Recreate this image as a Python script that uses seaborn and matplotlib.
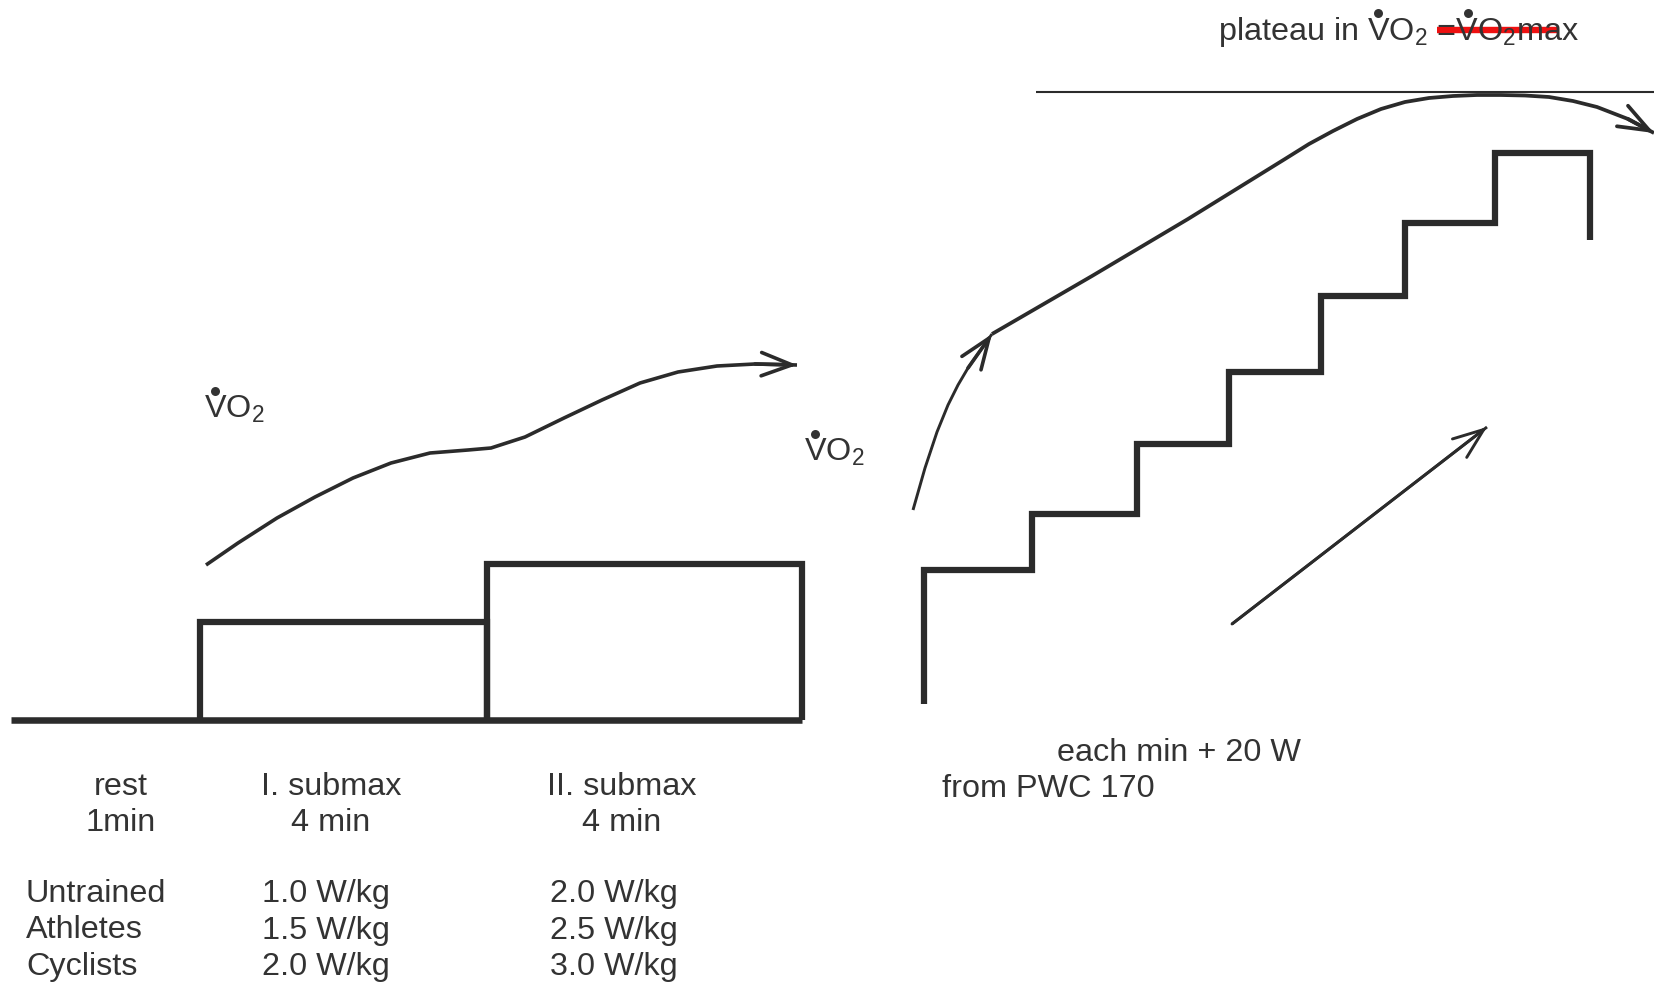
import matplotlib
matplotlib.use("Agg")
import matplotlib.pyplot as plt
import seaborn as sns

# Diagram drawn in picture pixel units (x to the right, y downward)

# Left protocol: rest + two submaximal stages
stage_edges = [11, 200, 487, 802]
baseline = 720
stage_tops = [622, 564]

# Left VO2 response curve
left_curve_x = [206, 238, 277, 315, 353, 391, 430, 468, 491, 525, 564, 602, 640, 678, 717, 755, 797]
left_curve_y = [565, 543, 518, 497, 478, 463, 453, 450, 448, 437, 418, 400, 383, 372, 366, 364, 365]

# Right protocol: ramp of steps (+20 W each min)
step_edges = [924, 1032, 1137, 1229, 1321, 1405, 1495, 1590]
step_levels = [570, 514, 444, 372, 296, 223, 153]
step_bottom = 704
step_end = 240

# Right VO2 curve: first rising arrow, then plateau curve
rise_x = [913, 925, 937, 948, 958, 968, 992]
rise_y = [510, 468, 432, 405, 385, 368, 334]
plateau_x = [992, 1092, 1188, 1285, 1309, 1333, 1357, 1381, 1405, 1429, 1453, 1477, 1501, 1525, 1549, 1573, 1597, 1628, 1654]
plateau_y = [334, 276, 219, 159, 144, 131, 119, 109, 102, 98, 96, 95, 95, 95.5, 97, 101, 107, 119, 133]
vo2max_line_x = [1036, 1654]
vo2max_line_y = [92, 92]

# Load increase arrow
ramp_x = [1232, 1487]
ramp_y = [624, 427]

# red strike over "= VO2max"
strike_x = [1437, 1559]
strike_y = [30, 30]

phase_labels = [("rest", "1min", 121), ("I. submax", "4 min", 331), ("II. submax", "4 min", 622)]
groups = ["Untrained", "Athletes", "Cyclists"]
load_1 = ["1.0 W/kg", "1.5 W/kg", "2.0 W/kg"]
load_2 = ["2.0 W/kg", "2.5 W/kg", "3.0 W/kg"]

sns.set_style("white")
plt.rcParams["font.family"] = ["Liberation Sans", "DejaVu Sans"]
plt.rcParams["mathtext.fontset"] = "custom"
plt.rcParams["mathtext.rm"] = "Liberation Sans"
plt.rcParams["mathtext.it"] = "Liberation Sans:italic"

ink = "#2b2b2b"
txt = "#333333"
fs = 23.3

fig = plt.figure(figsize=(16.54, 9.83), dpi=100)
ax = fig.add_axes([0, 0, 1, 1])
ax.set_xlim(0, 1654)
ax.set_ylim(983, 0)
ax.axis("off")
renderer = fig.canvas.get_renderer()


def draw(xs, ys, lw, color=ink):
    sns.lineplot(x=xs, y=ys, sort=False, estimator=None, color=color, linewidth=lw, ax=ax,
                 solid_capstyle="butt", solid_joinstyle="miter")


def head(xs, ys, lw):
    ax.annotate("", xy=(xs[-1], ys[-1]), xytext=(xs[-2], ys[-2]),
                arrowprops=dict(arrowstyle="->,head_length=1.1,head_width=0.42", color=ink,
                                lw=lw, mutation_scale=20, shrinkA=0, shrinkB=0))


def text_width(s):
    t = ax.text(0, 0, s, fontsize=fs)
    w = t.get_window_extent(renderer).width
    t.remove()
    return w


def dotted_text(x, y, s, v_prefixes):
    # text on a baseline, with a bold dot above each V (V-dot)
    ax.text(x, y, s, fontsize=fs, color=txt, ha="left", va="baseline")
    cap = 0.716 * fs * 100 / 72
    wv = text_width("V")
    dx = [x + text_width(p + "V") - wv / 2 for p in v_prefixes]
    sns.scatterplot(x=dx, y=[y - cap * 1.17] * len(dx), color=txt, s=42, linewidth=0, ax=ax)


# left boxes
draw([stage_edges[0], stage_edges[-1]], [baseline, baseline], 4.7)
draw([stage_edges[1], stage_edges[1], stage_edges[2], stage_edges[2]],
     [baseline, stage_tops[0], stage_tops[0], baseline], 4.5)
draw([stage_edges[2], stage_edges[2], stage_edges[3], stage_edges[3]],
     [baseline, stage_tops[1], stage_tops[1], baseline], 4.5)

# left curve
draw(left_curve_x, left_curve_y, 2.6)
head(left_curve_x, left_curve_y, 2.6)

# staircase
sx, sy = [step_edges[0]], [step_bottom]
for i, lev in enumerate(step_levels):
    sx += [step_edges[i], step_edges[i + 1]]
    sy += [lev, lev]
sx.append(step_edges[-1])
sy.append(step_end)
draw(sx, sy, 4.5)

# right curves
draw(rise_x, rise_y, 2.1)
head(rise_x, rise_y, 2.6)
draw(plateau_x, plateau_y, 2.7)
head(plateau_x, plateau_y, 2.7)
draw(vo2max_line_x, vo2max_line_y, 1.5)
draw(ramp_x, ramp_y, 2.1)
head(ramp_x, ramp_y, 2.1)

# VO2 labels
dotted_text(204, 418, r"VO$_2$", [""])
dotted_text(804, 461, r"VO$_2$", [""])
dotted_text(1218, 40, r"plateau in VO$_2$ =VO$_2$max", ["plateau in ", r"plateau in VO$_2$ ="])
draw(strike_x, strike_y, 4.6, color="#ee1111")

for top, bottom, xc in phase_labels:
    ax.text(xc, 787, top, fontsize=fs, color=txt, ha="center", va="center")
    ax.text(xc, 823, bottom, fontsize=fs, color=txt, ha="center", va="center")

for i in range(3):
    y = 894 + i * 36.5
    ax.text(26, y, groups[i], fontsize=fs, color=txt, ha="left", va="center")
    ax.text(262, y, load_1[i], fontsize=fs, color=txt, ha="left", va="center")
    ax.text(550, y, load_2[i], fontsize=fs, color=txt, ha="left", va="center")

ax.text(1057, 753, "each min + 20 W", fontsize=fs, color=txt, ha="left", va="center")
ax.text(942, 789, "from PWC 170", fontsize=fs, color=txt, ha="left", va="center")

ax.set_xlim(0, 1654)
ax.set_ylim(983, 0)
if ax.get_legend():
    ax.get_legend().remove()

fig.savefig("out.png", dpi=100, facecolor="white")
